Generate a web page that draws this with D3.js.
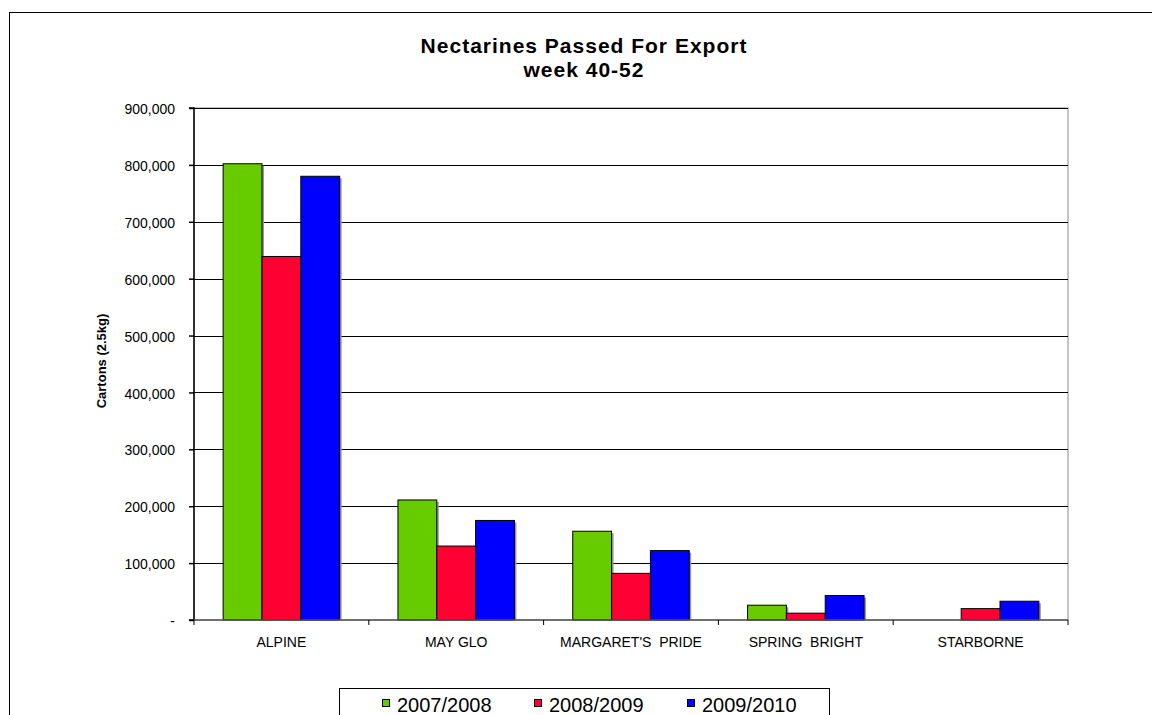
<!DOCTYPE html>
<html><head><meta charset="utf-8">
<script src="https://cdn.jsdelivr.net/npm/d3@7"></script>
<style>body{margin:0;background:#fff;}svg{display:block;font-family:"Liberation Sans",Arial,sans-serif;}</style>
</head><body>
<script>
const categories = ["ALPINE", "MAY GLO", "MARGARET'S  PRIDE", "SPRING  BRIGHT", "STARBORNE"];
const seriesNames = ["2007/2008", "2008/2009", "2009/2010"];
const s2007 = [802000, 211000, 156000, 26000, 0];
const s2008 = [639000, 130000, 82000, 12000, 20000];
const s2009 = [780000, 175000, 122000, 43000, 33000];
const colors = ["#66cc00", "#ff0033", "#0000ff"];
const yTicks = [0, 100000, 200000, 300000, 400000, 500000, 600000, 700000, 800000, 900000];
const title1 = "Nectarines Passed For Export";
const title2 = "week 40-52";
const yLabel = "Cartons (2.5kg)";

const series = [s2007, s2008, s2009];
const W = 1152, H = 715;
const svg = d3.select("body").append("svg").attr("width", W).attr("height", H);

// outer chart border
svg.append("rect").attr("x", 9.5).attr("y", 12.5).attr("width", 1170).attr("height", 720)
  .attr("fill", "#fff").attr("stroke", "#000").attr("stroke-width", 1);

const L = 194, R = 1068, T = 108, B = 620;
const x0 = d3.scaleBand().domain(categories).range([L, R]).paddingInner(0).paddingOuter(0);
const y = d3.scaleLinear().domain([0, 900000]).range([B, T]);
const gapFrac = 58.3 / 174.8;
const x1 = d3.scaleBand().domain(seriesNames)
  .range([x0.bandwidth() * gapFrac / 2, x0.bandwidth() * (1 - gapFrac / 2)]).padding(0);

// plot area border (gray)
svg.append("rect").attr("x", L).attr("y", T).attr("width", R - L).attr("height", B - T)
  .attr("fill", "none").attr("stroke", "#b0b0b0").attr("stroke-width", 1.5);

// gridlines
svg.append("g").selectAll("line").data(yTicks.filter(d => d > 0)).join("line")
  .attr("x1", L).attr("x2", R)
  .attr("y1", d => Math.round(y(d)) + 0.5).attr("y2", d => Math.round(y(d)) + 0.5)
  .attr("stroke", "#000").attr("stroke-width", 1);

// bars with shadow
const groups = svg.append("g").selectAll("g").data(categories).join("g")
  .attr("transform", d => `translate(${x0(d)},0)`);
groups.each(function(cat, ci) {
  const g = d3.select(this);
  seriesNames.forEach((sn, si) => {
    const v = series[si][ci];
    if (v <= 0) return;
    const bx = x1(sn), bw = x1.bandwidth();
    g.append("rect").attr("x", bx + 2).attr("y", y(v) + 2).attr("width", bw).attr("height", B - y(v) - 2)
      .attr("fill", "#999");
  });
  seriesNames.forEach((sn, si) => {
    const v = series[si][ci];
    if (v <= 0) return;
    const bx = x1(sn), bw = x1.bandwidth();
    g.append("rect").attr("x", bx).attr("y", y(v)).attr("width", bw).attr("height", B - y(v))
      .attr("fill", colors[si]).attr("stroke", "#000").attr("stroke-width", 1);
  });
});

// y axis
const yAxis = d3.axisLeft(y).tickValues(yTicks).tickSize(5).tickPadding(14)
  .tickFormat(d => d === 0 ? "-" : d3.format(",")(d));
const yg = svg.append("g").attr("transform", `translate(${L},0)`).call(yAxis);
yg.select(".domain").attr("stroke", "#000").attr("stroke-width", 1.5).attr("d", `M-5,${B}H0V${T}H-5`);
yg.selectAll(".tick line").attr("stroke", "#000").attr("stroke-width", 1.5);
yg.selectAll("text").attr("font-size", 14).attr("fill", "#000").attr("dy", "0.4em")
  .attr("font-family", "Liberation Sans, Arial, sans-serif");

// x axis
const xAxis = d3.axisBottom(x0).tickSize(0).tickPadding(17);
const xg = svg.append("g").attr("transform", `translate(0,${B})`).call(xAxis);
xg.select(".domain").attr("stroke", "#555").attr("stroke-width", 1.5).attr("d", `M${L},0H${R}`);
xg.selectAll("text").attr("font-size", 14).attr("fill", "#000").style("white-space", "pre")
  .attr("font-family", "Liberation Sans, Arial, sans-serif");
// category separator ticks
svg.append("g").selectAll("line").data(categories).join("line")
  .attr("x1", d => x0(d) + x0.bandwidth()).attr("x2", d => x0(d) + x0.bandwidth())
  .attr("y1", B).attr("y2", B + 5).attr("stroke", "#000").attr("stroke-width", 1);
svg.append("line").attr("x1", L).attr("x2", L).attr("y1", B).attr("y2", B + 5).attr("stroke", "#000");

// titles
svg.append("text").attr("x", 584).attr("y", 53).attr("text-anchor", "middle")
  .attr("font-size", 21).attr("letter-spacing", "1px").attr("font-weight", "bold").text(title1);
svg.append("text").attr("x", 584).attr("y", 77).attr("text-anchor", "middle")
  .attr("font-size", 21).attr("letter-spacing", "1px").attr("font-weight", "bold").text(title2);

// y label
svg.append("text").attr("transform", `translate(106,361) rotate(-90)`).attr("text-anchor", "middle")
  .attr("font-size", 13).attr("font-weight", "bold").text(yLabel);

// legend
const lg = svg.append("g");
lg.append("rect").attr("x", 339.5).attr("y", 688.5).attr("width", 490).attr("height", 40)
  .attr("fill", "#fff").attr("stroke", "#000").attr("stroke-width", 1);
const legX = [382, 534, 687];
seriesNames.forEach((sn, i) => {
  lg.append("rect").attr("x", legX[i] + 0.5).attr("y", 699.5).attr("width", 7).attr("height", 7)
    .attr("fill", colors[i]).attr("stroke", "#000").attr("stroke-width", 1);
  lg.append("text").attr("x", legX[i] + 15).attr("y", 712).attr("font-size", 20).text(sn);
});
</script>
</body></html>
